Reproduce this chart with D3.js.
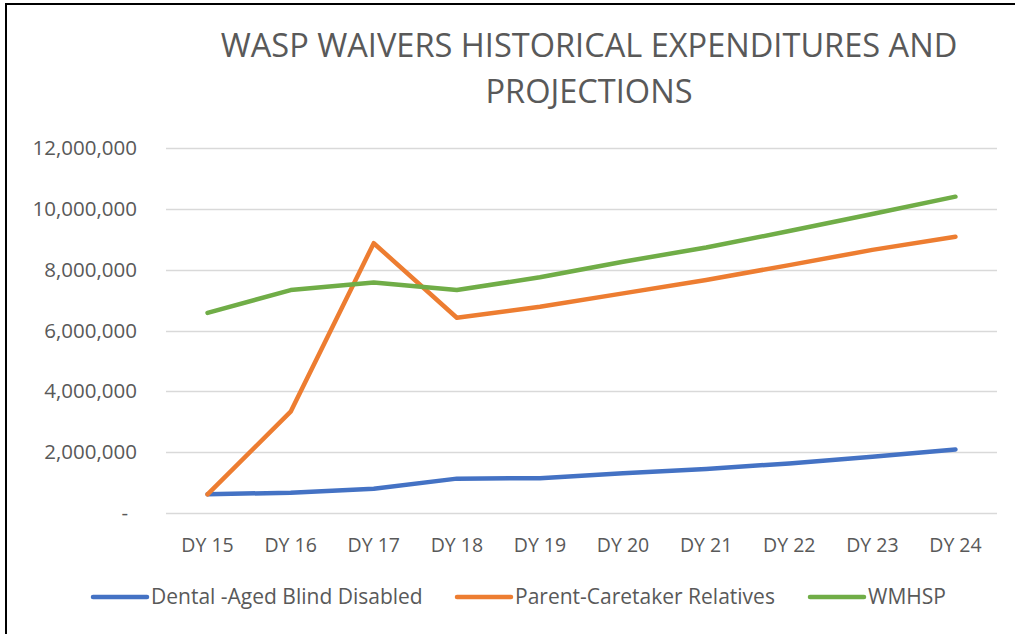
<!DOCTYPE html>
<html>
<head>
<meta charset="utf-8">
<script src="https://cdn.jsdelivr.net/npm/d3@7"></script>
<style>
  html, body { margin: 0; padding: 0; background: #fff; }
  svg { display: block; }
  text { font-family: "Open Sans", "Liberation Sans", sans-serif; fill: #595959; }
</style>
</head>
<body>
<svg id="chart"></svg>
<script>
// dimensioni fisse della finestra
const width = 1015;
const height = 634;

// dati
const categories = ["DY 15", "DY 16", "DY 17", "DY 18", "DY 19", "DY 20", "DY 21", "DY 22", "DY 23", "DY 24"];
const dentalABD = [615000, 667000, 800000, 1130000, 1145000, 1305000, 1450000, 1630000, 1850000, 2090000];
const parentCaretaker = [615000, 3330000, 8870000, 6420000, 6780000, 7220000, 7660000, 8150000, 8650000, 9080000];
const wmhsp = [6580000, 7330000, 7580000, 7330000, 7750000, 8260000, 8730000, 9270000, 9830000, 10400000];
const yTicks = [0, 2000000, 4000000, 6000000, 8000000, 10000000, 12000000];
const titleLines = ["WASP WAIVERS HISTORICAL EXPENDITURES AND", "PROJECTIONS"];

const series = [
  { name: "Dental -Aged Blind Disabled", values: dentalABD, color: "#4472C4" },
  { name: "Parent-Caretaker Relatives", values: parentCaretaker, color: "#ED7D31" },
  { name: "WMHSP", values: wmhsp, color: "#70AD47" }
];

const plot = { left: 166, right: 997, top: 148, bottom: 513 };

const svg = d3.select("#chart")
  .attr("width", width)
  .attr("height", height);

// bordo (solo sinistra e sopra sono visibili)
svg.append("path")
  .attr("d", `M6,${height} V4 H${width}`)
  .attr("fill", "none")
  .attr("stroke", "#000")
  .attr("stroke-width", 2);

// titolo
const title = svg.append("g");
title.selectAll("text")
  .data(titleLines)
  .join("text")
    .attr("x", 589)
    .attr("y", (d, i) => 57 + i * 46)
    .attr("text-anchor", "middle")
    .attr("font-size", 31)
    .text(d => d);

// adatta la dimensione del titolo alla larghezza della prima riga
const firstLine = title.select("text").node();
const w0 = firstLine.getComputedTextLength();
const titleSize = 31 * 737 / w0;
title.selectAll("text").attr("font-size", titleSize);

// scale
const x = d3.scalePoint()
  .domain(categories)
  .range([plot.left, plot.right])
  .padding(0.5);

const y = d3.scaleLinear()
  .domain([0, 12000000])
  .range([plot.bottom, plot.top]);

// griglia
svg.append("g")
  .selectAll("line")
  .data(yTicks)
  .join("line")
    .attr("x1", plot.left)
    .attr("x2", plot.right)
    .attr("y1", d => Math.round(y(d)) + 0.5)
    .attr("y2", d => Math.round(y(d)) + 0.5)
    .attr("stroke", "#D9D9D9")
    .attr("stroke-width", 1.3);

// etichette asse Y
const fmt = d3.format(",");
svg.append("g")
  .selectAll("text")
  .data(yTicks)
  .join("text")
    .attr("x", d => d === 0 ? 128 : 137)
    .attr("y", d => y(d) + 7)
    .attr("text-anchor", "end")
    .attr("font-size", 20.5)
    .text(d => d === 0 ? "-" : fmt(d));

// etichette asse X
svg.append("g")
  .selectAll("text")
  .data(categories)
  .join("text")
    .attr("x", d => x(d))
    .attr("y", 552)
    .attr("text-anchor", "middle")
    .attr("font-size", 19.5)
    .text(d => d);

// linee
const line = d3.line()
  .x((d, i) => x(categories[i]))
  .y(d => y(d));

svg.append("g")
  .selectAll("path")
  .data(series)
  .join("path")
    .attr("d", d => line(d.values))
    .attr("fill", "none")
    .attr("stroke", d => d.color)
    .attr("stroke-width", 4.5)
    .attr("stroke-linecap", "round")
    .attr("stroke-linejoin", "round");

// legenda
const legendX = [93, 457, 810];
const legend = svg.append("g")
  .selectAll("g")
  .data(series)
  .join("g")
    .attr("transform", (d, i) => `translate(${legendX[i]},597)`);

legend.append("line")
  .attr("x1", 0).attr("x2", 54)
  .attr("y1", 0).attr("y2", 0)
  .attr("stroke", d => d.color)
  .attr("stroke-width", 4.5)
  .attr("stroke-linecap", "round");

legend.append("text")
  .attr("x", 58)
  .attr("y", 7)
  .attr("font-size", 21)
  .text(d => d.name);
</script>
</body>
</html>
